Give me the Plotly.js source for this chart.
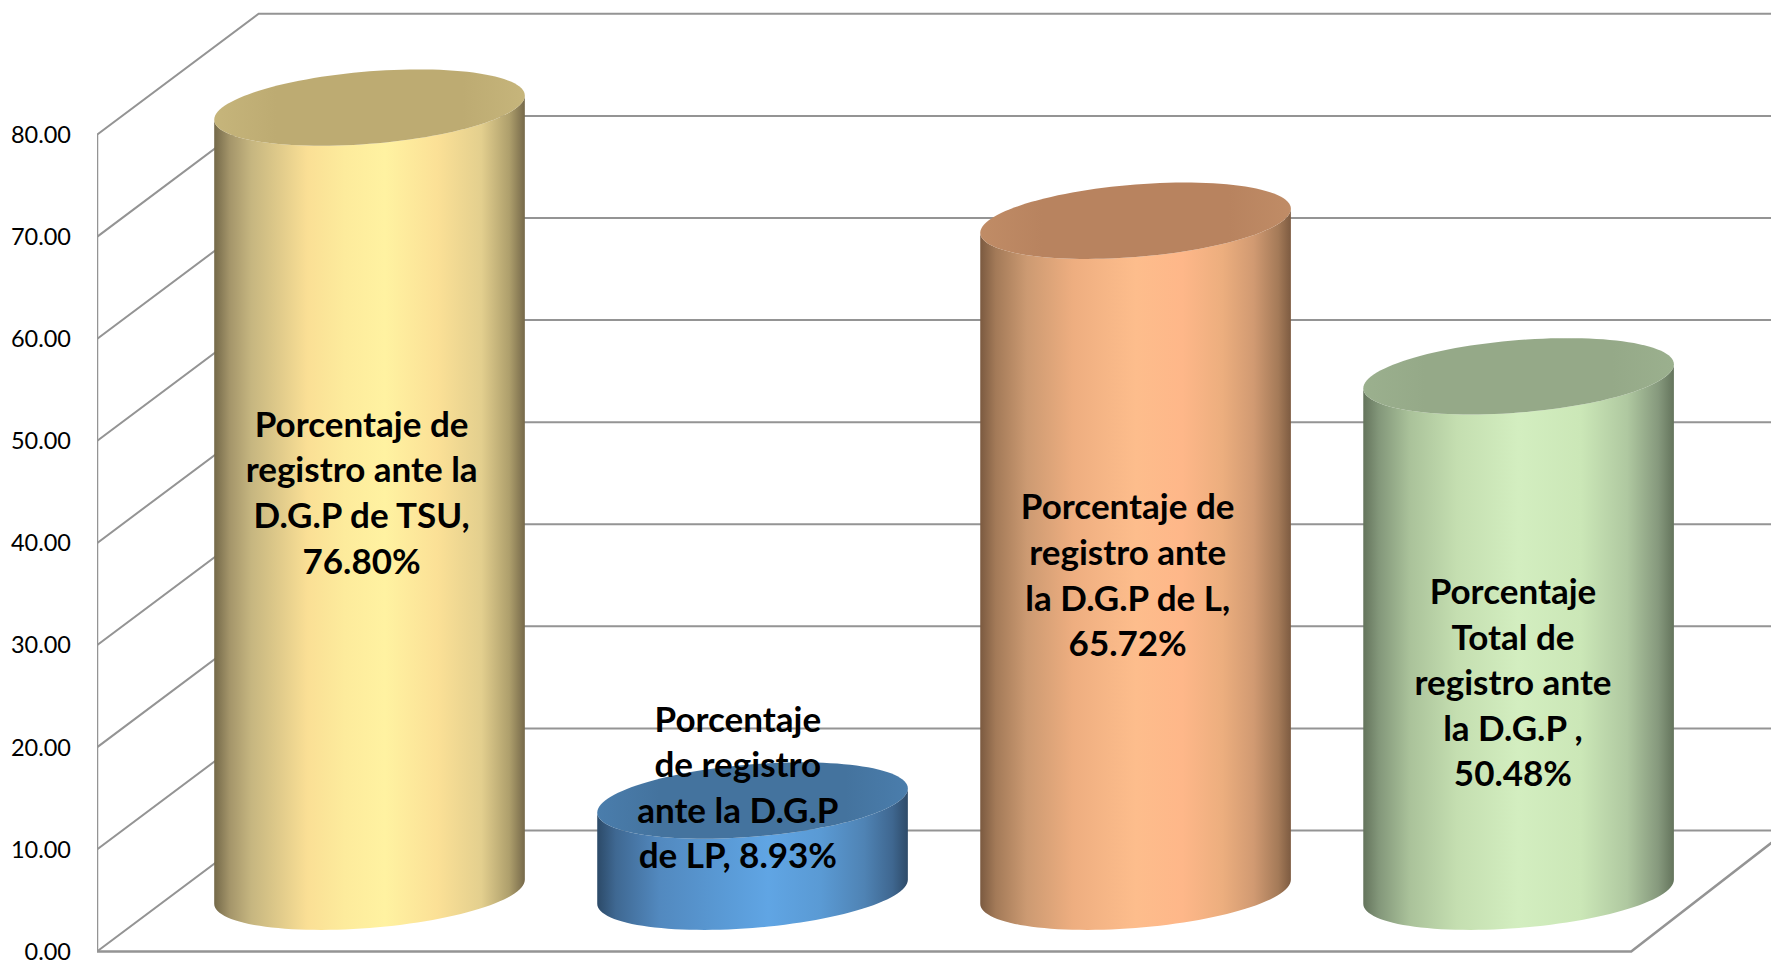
<!DOCTYPE html>
<html><head><meta charset="utf-8">
<script src="https://cdn.plot.ly/plotly-3.0.1.min.js"></script>
<style>html,body{margin:0;padding:0;background:#fff;overflow:hidden}#c{width:1771px;height:964px}</style>
</head><body><div id="c"></div>
<script>
// ---- data ----
const categories = ["TSU", "LP", "L", "Total"];
const values = [76.80, 8.93, 65.72, 50.48];
const tickValues = [0, 10, 20, 30, 40, 50, 60, 70, 80];
const labelLines = [
  ["Porcentaje de", "registro ante la", "D.G.P de TSU,", "76.80%"],
  ["Porcentaje", "de registro", "ante la D.G.P", "de LP, 8.93%"],
  ["Porcentaje de", "registro ante", "la D.G.P de L,", "65.72%"],
  ["Porcentaje", "Total de", "registro ante", "la D.G.P ,", "50.48%"]
];
// ---- geometry of the oblique drawing, in axis units ----
const labelMid = [44.57, 15.7, 36.47, 25.97];
const labelShift = [-0.0206, -0.0383, -0.0206, -0.0147];
const lineStep = 4.47, floorMid = 5.86, rx = 0.4055, shear = 1.18, ry = 3.55;
const depthX = 0.422, depthY = 11.85, wallX = -0.7115, floorEnd = 3.294, depthXRight = 0.407;
// ---- styles ----
const bodyScales = [
  [[0,'#746949'],[0.05,'#a4956a'],[0.12,'#c6b680'],[0.3,'#fadf95'],[0.42,'#fdeb9c'],[0.55,'#fff2a1'],[0.72,'#fbe096'],[0.86,'#e3cf8e'],[0.95,'#ae9f6c'],[1,'#76694a']],
  [[0,'#2c4a68'],[0.06,'#3f6892'],[0.2,'#5289bf'],[0.42,'#5a9bd7'],[0.55,'#60a5e4'],[0.72,'#5a9ad4'],[0.86,'#4f83b4'],[0.95,'#3f6790'],[1,'#2e4b69']],
  [[0,'#7b5a40'],[0.05,'#a37a58'],[0.15,'#cc9a72'],[0.3,'#eeae80'],[0.5,'#fdbd8c'],[0.65,'#feb789'],[0.78,'#ecae7e'],[0.88,'#d19a72'],[0.96,'#a47a58'],[1,'#7d5b41']],
  [[0,'#64745c'],[0.05,'#83977a'],[0.15,'#aac29a'],[0.3,'#c4deb0'],[0.5,'#d3eec0'],[0.7,'#cbe7b7'],[0.85,'#afc8a0'],[0.95,'#86997d'],[1,'#64745c']]
];
const topColors = [['#c6b57b','#bdab72'],['#4a7dac','#44739e'],['#c08c66','#b8835f'],['#9bb08e','#95a988']];
const gridColor = '#949494';

const traces = [];
// walls and floor
const gx = [], gy = [];
tickValues.forEach(v => {
  gx.push(wallX, wallX + depthX, 4, null);
  gy.push(v, v + depthY, v + depthY, null);
});
traces.push({x: gx, y: gy, mode: 'lines', line: {color: gridColor, width: 2}, hoverinfo: 'skip', showlegend: false});
const maxTick = tickValues[tickValues.length - 1];
traces.push({
  x: [wallX, wallX, null, wallX, floorEnd, floorEnd + depthXRight],
  y: [maxTick, 0, null, 0, 0, depthY],
  mode: 'lines', line: {color: gridColor, width: 2.5}, hoverinfo: 'skip', showlegend: false
});
// cylinders
const deg = [];
for (let d = 0; d <= 180; d += 3) deg.push(d * Math.PI / 180);
values.forEach((v, i) => {
  const yTop = v + floorMid;
  const bx = [], by = [];
  deg.forEach(t => { bx.push(i + rx * Math.cos(t)); by.push(floorMid + shear * Math.cos(t) - ry * Math.sin(t)); });
  deg.slice().reverse().forEach(t => { bx.push(i + rx * Math.cos(t)); by.push(yTop + shear * Math.cos(t) - ry * Math.sin(t)); });
  traces.push({x: bx, y: by, mode: 'none', fill: 'toself', name: categories[i],
    fillgradient: {type: 'horizontal', colorscale: bodyScales[i]}, hoverinfo: 'skip', showlegend: false});
  const ex = [], ey = [];
  for (let d = 0; d <= 360; d += 3) {
    const t = d * Math.PI / 180;
    ex.push(i + rx * Math.cos(t)); ey.push(yTop + shear * Math.cos(t) + ry * Math.sin(t));
  }
  const [edge, mid] = topColors[i];
  traces.push({x: ex, y: ey, mode: 'none', fill: 'toself',
    fillgradient: {type: 'horizontal', colorscale: [[0, edge], [0.2, mid], [0.8, mid], [1, edge]]},
    hoverinfo: 'skip', showlegend: false});
});
// labels
const tx = [], ty = [], tt = [];
labelLines.forEach((lines, i) => {
  lines.forEach((s, j) => {
    tx.push(i + labelShift[i]); ty.push(labelMid[i] + ((lines.length - 1) / 2 - j) * lineStep); tt.push(s);
  });
});
traces.push({x: tx, y: ty, text: tt, mode: 'text', textposition: 'middle center', cliponaxis: false,
  textfont: {family: 'Lato, sans-serif', size: 35, color: '#000', weight: 'bold'}, hoverinfo: 'skip', showlegend: false});

const layout = {
  width: 1771, height: 964,
  margin: {l: 97, r: 0, t: 0, b: 0, pad: 0},
  paper_bgcolor: '#fff', plot_bgcolor: '#fff',
  showlegend: false,
  xaxis: {range: [wallX, 3.659], visible: false, fixedrange: true},
  yaxis: {range: [-1.22, 93.2], tickmode: 'array', tickvals: tickValues,
    ticktext: tickValues.map(v => v.toFixed(2)), showgrid: false, zeroline: false, showline: false,
    ticks: '', ticklabelstandoff: 25, ticklabeloverflow: 'allow', tickfont: {family: 'Lato, sans-serif', size: 23.5, color: '#000'},
    fixedrange: true, automargin: false}
};
Plotly.newPlot('c', traces, layout, {displayModeBar: false, staticPlot: true});
</script></body></html>
